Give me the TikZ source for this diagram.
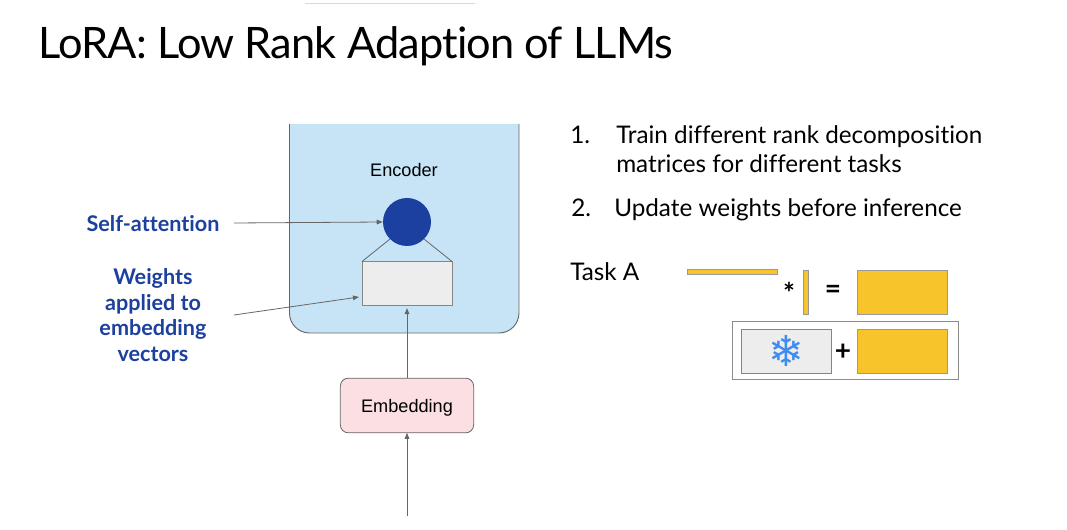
\documentclass[tikz,border=0pt]{standalone}
\usepackage{fontspec}
\setmainfont{Lato}[Ligatures=NoCommon]
\newfontfamily\titlefont{Lato}[Ligatures=NoCommon,LetterSpace=-2.0]
\newfontfamily\arialfont{Liberation Sans}
\newfontfamily\symbolfont{DejaVu Sans}
\usetikzlibrary{arrows.meta,positioning}
\usepackage{xcolor}
\definecolor{encoderblue}{HTML}{C6E4F6}
\definecolor{attentionblue}{HTML}{1C409F}
\definecolor{weightgray}{HTML}{EDEDED}
\definecolor{embedpink}{HTML}{FBDFE3}
\definecolor{taskyellow}{HTML}{F7C52B}
\definecolor{edgegray}{HTML}{666666}
\definecolor{flakeblue}{HTML}{3C8CF2}

\begin{document}
\begin{tikzpicture}[
x=0.75pt, y=-0.75pt,
box/.style={
	rectangle, inner sep=0pt, outer sep=0pt,
	minimum width=67.5pt, minimum height=33pt,
	draw=edgegray!80, line width=0.6pt,
},
weights/.style={box, fill=weightgray},
taskmatrix/.style={box, fill=taskyellow, draw=black!40},
embedding/.style={
	box, rounded corners=6pt, fill=embedpink, draw=edgegray,
	minimum width=100pt, minimum height=41pt, text depth=0pt,
	font=\arialfont\fontsize{13.6}{16}\selectfont,
},
heading/.style={anchor=base west, inner sep=0pt, font=\titlefont\fontsize{32.5}{38}\selectfont},
bullet/.style={anchor=base west, inner sep=0pt, font=\fontsize{18.2}{22}\selectfont},
callout/.style={
	align=center, inner sep=0pt, text=attentionblue,
	font=\bfseries\fontsize{16.2}{19.4}\selectfont,
},
operator/.style={inner sep=0pt, font=\bfseries\fontsize{21}{24}\selectfont},
pointer/.style={draw=edgegray, line width=0.6pt, -{Triangle[length=4.5pt,width=3.5pt]}},
plainedge/.style={draw=edgegray, line width=0.6pt},
]
\useasboundingbox (0,0) rectangle (1067,530);

\draw[black!15, line width=0.8pt] (305,3.5) -- (475,3.5);

\node[heading] (title) at (38.5,59) {LoRA: Low Rank Adaption of LLMs};

\filldraw[fill=encoderblue, draw=edgegray, line width=0.7pt, rounded corners=15pt]
	(289.5,124) -- (289.5,333) -- (519,333) -- (519,124);
\node[inner sep=0pt, font=\arialfont\fontsize{13.6}{16}\selectfont] (encoder) at (404,170) {Encoder};

\node[circle, fill=attentionblue, inner sep=0pt, minimum size=36pt] (attention) at (407,222) {};
\node[weights] (weightbox) at (407,283.5) {};
\node[embedding] (embed) at (407,405.5) {Embedding};

\node[callout] (selfatt) at (153,224) {Self-attention};
\node[callout] (weightlabel) at (153,315) {Weights\\applied to\\embedding\\vectors};

\coordinate (selfattend) at (234,223);
\coordinate (weightend) at (234,315);
\coordinate (inputend) at (407,516);
\coordinate (weighttip) at (359,297);

\draw[pointer] (selfattend) -- (attention.west);
\draw[pointer] (weightend) -- (weighttip);
\draw[pointer] (embed.north) -- ([yshift=-2pt]weightbox.south);
\draw[pointer] (inputend) -- (embed.south);
\draw[plainedge] (attention.225) -- (weightbox.north west);
\draw[plainedge] (attention.-45) -- (weightbox.north east);

\node[bullet] (numone) at (570,144) {1.};
\node[bullet] (itemone) at (616,144) {Train different rank decomposition};
\node[bullet] (itemoneb) at (616,173) {matrices for different tasks};
\node[bullet] (numtwo) at (571,217) {2.};
\node[bullet] (itemtwo) at (614,217) {Update weights before inference};
\node[bullet] (taska) at (570,281) {Task A};

\node[taskmatrix, minimum width=67pt, minimum height=3.4pt] (lowrankh) at (732.5,271.7) {};
\node[taskmatrix, minimum width=3.4pt, minimum height=33pt] (lowrankv) at (805.8,292) {};
\node[taskmatrix] (delta) at (902,292) {};
\node[box, draw=black!45, minimum width=169pt, minimum height=44pt] (frozenframe) at (845.5,350.5) {};
\node[weights, font=\symbolfont\bfseries\fontsize{32}{32}\selectfont, text=flakeblue] (frozen) at (786.5,351) {❄};
\node[taskmatrix] (deltab) at (902,351) {};
\node[operator] (times) at (789,293) {*};
\node[operator] (equals) at (833,292) {=};
\node[operator] (plus) at (843,352) {+};
\end{tikzpicture}
\end{document}
